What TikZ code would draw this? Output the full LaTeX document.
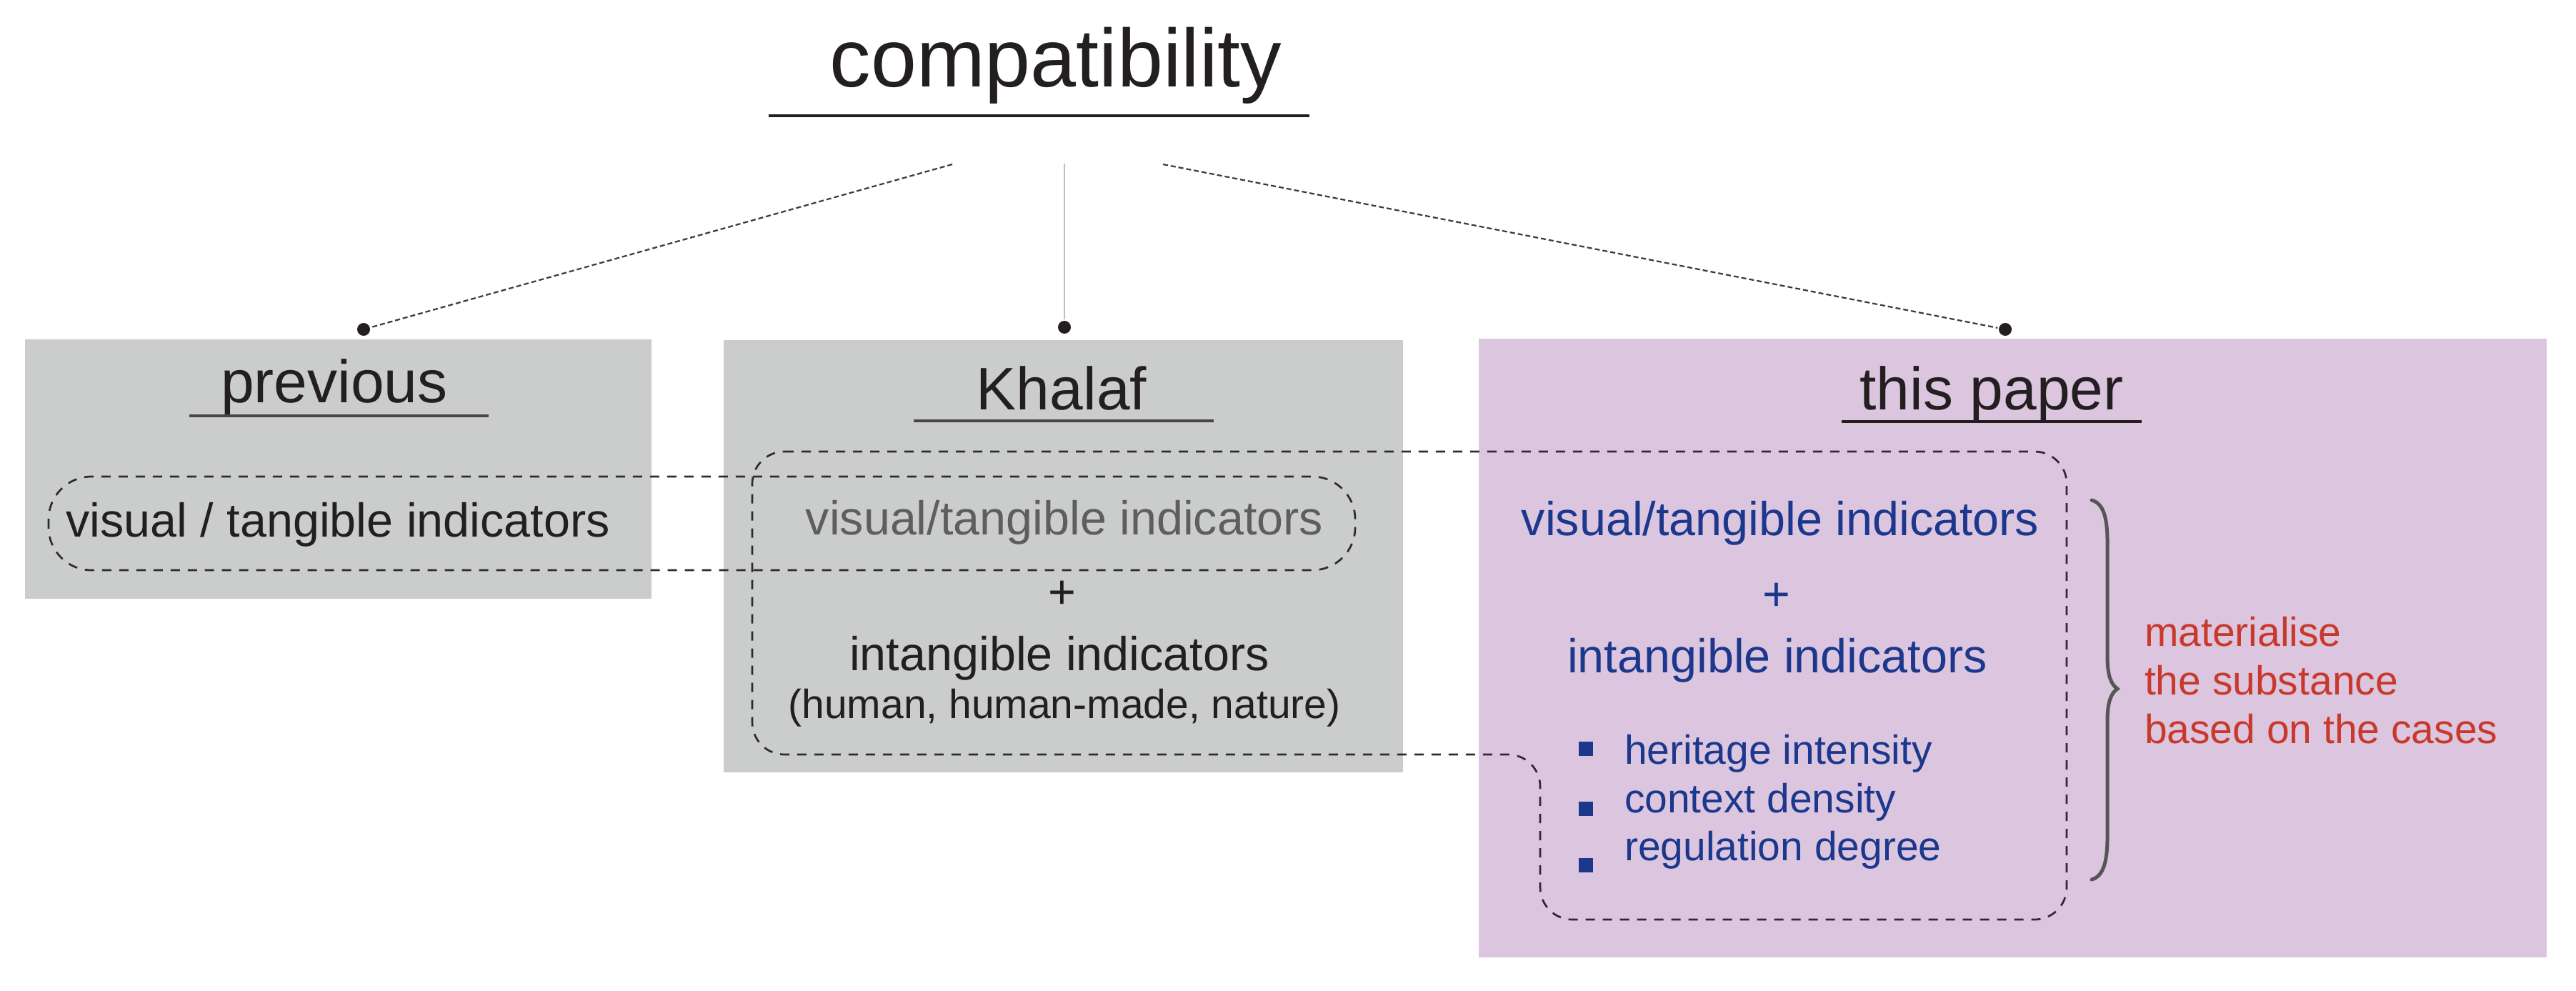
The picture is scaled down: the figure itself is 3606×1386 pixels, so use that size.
\documentclass[tikz,border=0pt]{standalone}
\usepackage{fontspec}
\setmainfont{Liberation Sans}
\definecolor{ink}{HTML}{231F20}
\definecolor{boxgray}{HTML}{CBCCCC}
\definecolor{boxpurple}{HTML}{DCC5DF}
\definecolor{tblue}{HTML}{1C388C}
\definecolor{tred}{HTML}{C8392B}
\definecolor{tgray}{HTML}{5E5E5E}
\definecolor{ulgray}{HTML}{4A4646}
\definecolor{dashink}{HTML}{2E2B2B}
\definecolor{connink}{HTML}{3A3A3A}
\definecolor{vline}{HTML}{BDBDBD}
\definecolor{bracegray}{HTML}{555555}
\begin{document}
\begin{tikzpicture}[x=0.1pt,y=-0.1pt,
  txt/.style={inner sep=0pt, anchor=base},
  titletxt/.style={txt, font=\fontsize{11.5}{13}\selectfont, text=ink},
  hdr/.style={txt, font=\fontsize{8.4}{10}\selectfont, text=ink},
  item/.style={txt, font=\fontsize{6.65}{8}\selectfont},
  small/.style={txt, font=\fontsize{5.7}{7}\selectfont},
  panel/.style={inner sep=0pt, draw=none},
  dot/.style={circle, fill=ink, inner sep=0pt, minimum size=1.8pt},
  conn/.style={connink, line width=0.22pt, dash pattern=on 0.7pt off 0.4pt},
  solidconn/.style={vline, line width=0.25pt},
  dashline/.style={dashink, line width=0.27pt, dash pattern=on 1.3pt off 1.1pt},
  uline/.style={ulgray, line width=0.35pt},
  bullet/.style={fill=tblue, inner sep=0pt, minimum size=2pt},
]
\fill[white] (0,0) rectangle (3606,1386);
\useasboundingbox (0,0) rectangle (3606,1386);

% panels
\node[panel, fill=boxgray, minimum width=87.7pt, minimum height=36.3pt] (prevbox) at (473.5,656.5) {};
\node[panel, fill=boxgray, minimum width=95.1pt, minimum height=60.5pt] (khbox) at (1488.5,778.5) {};
\node[panel, fill=boxpurple, minimum width=149.5pt, minimum height=86.6pt] (papbox) at (2817.5,907) {};

% title
\node[titletxt] (title) at (1478,122) {compatibility};
\coordinate (tulA) at (1076,162);
\coordinate (tulB) at (1833,162);
\draw[ink, line width=0.4pt] (tulA) -- (tulB);

% connectors
\coordinate (sL) at (1333,230);
\coordinate (sC) at (1490,229);
\coordinate (sR) at (1628,230);
\node[dot] (dL) at (509,461) {};
\node[dot] (dC) at (1490,458) {};
\node[dot] (dR) at (2807,461) {};
\draw[conn] (sL) -- (dL);
\draw[solidconn] (sC) -- (dC);
\draw[conn] (sR) -- (dR);

% headers
\node[hdr] (hprev) at (468,563) {previous};
\draw[uline] (265,582) -- (684,582);
\node[hdr] (hkh) at (1486,573) {Khalaf};
\draw[uline] (1279,589) -- (1699,589);
\node[hdr] (hpap) at (2788,573) {this paper};
\draw[ink, line width=0.35pt] (2578,590) -- (2998,590);

% dashed enclosures
\draw[dashline, rounded corners=6pt] (68,667) rectangle (1897,798);
\draw[dashline, rounded corners=4.5pt] (1053,632) -- (2893,632) -- (2893,1287) -- (2156,1287) -- (2156,1056) -- (1053,1056) -- cycle;

% previous content
\node[item, text=ink] (pvis) at (473,751) {visual / tangible indicators};

% Khalaf content
\node[item, text=tgray] (kvis) at (1490,748) {visual/tangible indicators};
\node[item, text=ink] (kplus) at (1487,851) {+};
\node[item, text=ink] (kint) at (1483,938) {intangible indicators};
\node[small, text=ink] (kpar) at (1490,1005) {(human, human-made, nature)};

% this paper content
\node[item, text=tblue] (avis) at (2492,749) {visual/tangible indicators};
\node[item, text=tblue] (aplus) at (2487,854) {+};
\node[item, text=tblue] (aint) at (2488,941) {intangible indicators};
\node[bullet] (b1) at (2220,1048) {};
\node[bullet] (b2) at (2220,1132) {};
\node[bullet] (b3) at (2220,1211) {};
\node[small, anchor=base west, text=tblue] (l1) at (2272,1069) {heritage intensity};
\node[small, anchor=base west, text=tblue] (l2) at (2272,1137) {context density};
\node[small, anchor=base west, text=tblue] (l3) at (2272,1204) {regulation degree};

% brace
\draw[bracegray, line width=0.5pt, line cap=round]
  (2928,700) .. controls (2945,705) and (2950,725) .. (2950,760)
  -- (2950,920) .. controls (2950,945) and (2955,958) .. (2964,964)
  .. controls (2955,970) and (2950,983) .. (2950,1008)
  -- (2950,1170) .. controls (2950,1205) and (2945,1226) .. (2928,1231);

% red note
\node[small, anchor=base west, text=tred] (r1) at (3000,904) {materialise};
\node[small, anchor=base west, text=tred] (r2) at (3000,972) {the substance};
\node[small, anchor=base west, text=tred] (r3) at (3000,1040) {based on the cases};
\end{tikzpicture}
\end{document}
